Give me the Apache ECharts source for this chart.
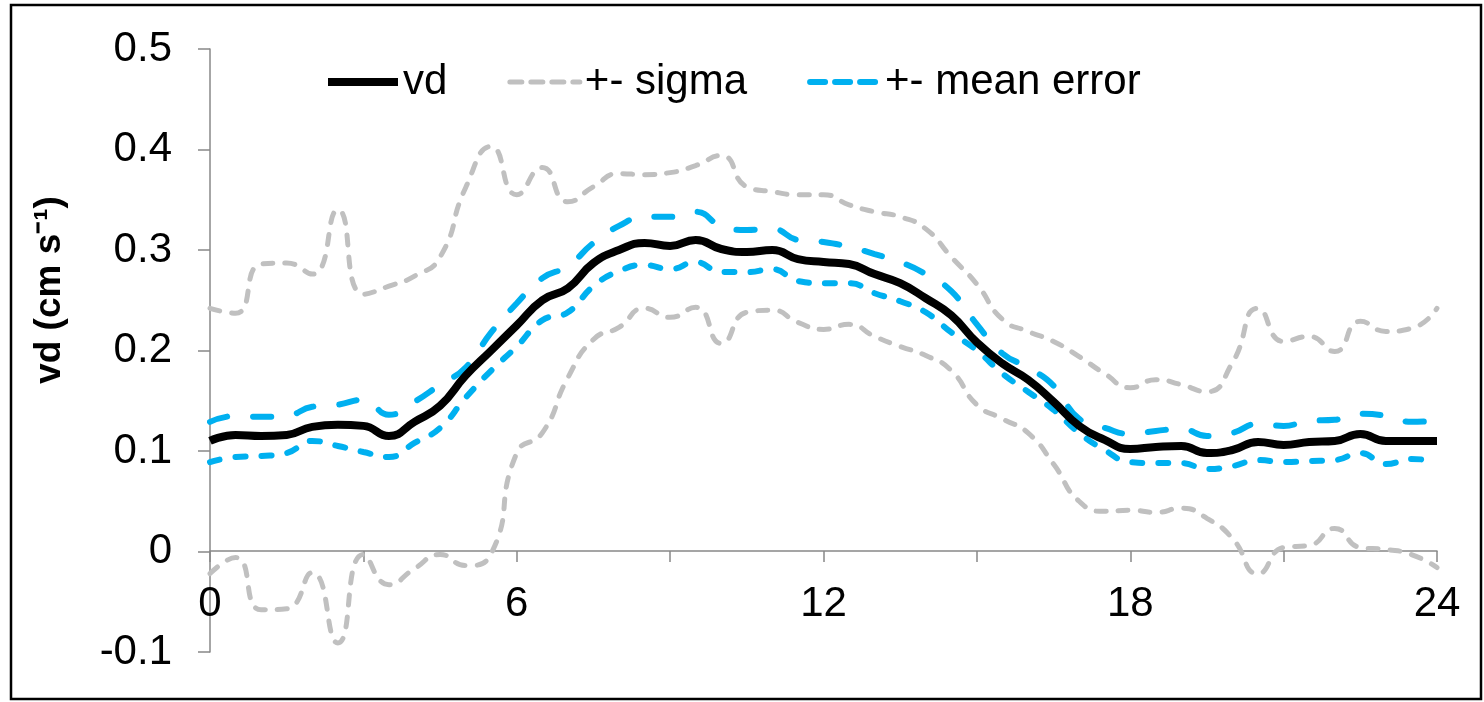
<!DOCTYPE html>
<html>
<head>
<meta charset="utf-8">
<script src="https://cdn.jsdelivr.net/npm/echarts@6/dist/echarts.min.js"></script>
<style>
html,body{margin:0;padding:0;background:#fff;}
#chart{width:1484px;height:702px;}
</style>
</head>
<body>
<div id="chart"></div>
<script>
var hours = [0,0.5,1,1.5,2,2.5,3,3.5,4,4.5,5,5.5,6,6.5,7,7.5,8,8.5,9,9.5,10,10.5,11,11.5,12,12.5,13,13.5,14,14.5,15,15.5,16,16.5,17,17.5,18,18.5,19,19.5,20,20.5,21,21.5,22,22.5,23,23.5,24];
var vd = [0.110,0.116,0.115,0.116,0.124,0.126,0.125,0.115,0.129,0.145,
          0.175,0.200,0.225,0.250,0.262,0.287,0.300,0.307,0.304,0.310,
          0.301,0.298,0.300,0.291,0.288,0.286,0.276,0.267,0.252,0.235,
          0.208,0.187,0.171,0.149,0.125,0.111,0.102,0.104,0.105,0.098,
          0.101,0.109,0.106,0.109,0.110,0.117,0.110,0.110,0.110];
var meanErrUpper = [0.129,0.135,0.134,0.135,0.144,0.146,0.151,0.136,0.149,0.166,
          0.183,0.218,0.247,0.272,0.284,0.307,0.324,0.333,0.333,0.338,
          0.324,0.320,0.321,0.310,0.308,0.303,0.296,0.288,0.276,0.259,
          0.226,0.197,0.183,0.165,0.132,0.123,0.117,0.120,0.122,0.115,
          0.118,0.127,0.125,0.130,0.131,0.137,0.135,0.129,0.130];
var meanErrLower = [0.089,0.094,0.095,0.098,0.110,0.105,0.099,0.094,0.108,0.123,
          0.153,0.180,0.204,0.230,0.238,0.264,0.279,0.285,0.281,0.288,
          0.278,0.278,0.281,0.269,0.267,0.267,0.257,0.249,0.238,0.218,
          0.200,0.177,0.159,0.141,0.118,0.101,0.089,0.088,0.088,0.082,
          0.085,0.091,0.089,0.090,0.091,0.098,0.087,0.092,0.090];
var sigmaUpper = [0.242,0.237,0.286,0.287,0.276,0.340,0.256,0.264,0.274,0.293,
          0.362,0.403,0.355,0.382,0.348,0.363,0.376,0.375,0.377,0.384,
          0.394,0.363,0.358,0.355,0.355,0.345,0.338,0.333,0.321,0.293,
          0.266,0.231,0.219,0.209,0.194,0.177,0.163,0.171,0.166,0.159,
          0.188,0.242,0.209,0.214,0.199,0.229,0.219,0.222,0.242];
var sigmaLower = [-0.022,-0.006,-0.058,-0.057,-0.021,-0.091,-0.003,-0.033,-0.017,-0.003,
          -0.014,-0.002,0.098,0.118,0.173,0.211,0.223,0.242,0.233,0.243,
          0.207,0.238,0.240,0.228,0.221,0.226,0.214,0.204,0.195,0.180,
          0.146,0.132,0.118,0.087,0.050,0.040,0.041,0.039,0.043,0.033,
          0.013,-0.022,0.004,0.006,0.023,0.004,0.002,-0.003,-0.016];
var xTickLabels = ['0','6','12','18','24'];
var yTitle = 'vd (cm s\u207B\u00B9)';
var legendNames = ['vd','+- sigma','+- mean error'];

function pairs(arr){ return hours.map(function(h,i){ return [h, arr[i]]; }); }

var FONT = '"Liberation Sans", Arial, sans-serif';
var AXIS_COLOR = '#888888';
var BLUE = '#00B0F0';
var GRAY = '#C0C0C0';

var chart = echarts.init(document.getElementById('chart'), null, {renderer:'canvas'});
chart.setOption({
  animation:false,
  backgroundColor:'#ffffff',
  grid:{left:210,right:47,top:49,bottom:50,containLabel:false,outerBoundsMode:'none'},
  legend:{
    left:323, top:56,
    itemWidth:70, itemHeight:12, itemGap:60,
    textStyle:{fontFamily:FONT,fontSize:42,color:'#000',padding:[0,0,0,0]},
    data:[
      {name:legendNames[0], icon:'path://M0,0 L70,0 L70,8 L0,8 Z', itemStyle:{color:'#000'}},
      {name:legendNames[1], itemStyle:{opacity:0}, lineStyle:{type:[12,9],width:5,color:GRAY,cap:'round'}},
      {name:legendNames[2], itemStyle:{opacity:0}, lineStyle:{type:[15,10],width:6,color:BLUE,cap:'round'}}
    ]
  },
  xAxis:{
    type:'value', min:0, max:24, interval:3, position:'bottom', offset:-101,
    axisLine:{onZero:false,lineStyle:{color:AXIS_COLOR,width:1.5}},
    axisTick:{show:true,length:11,lineStyle:{color:AXIS_COLOR,width:1.5}},
    splitLine:{show:false},
    axisLabel:{
      margin:32, color:'#000', fontFamily:FONT, fontSize:42,
      formatter:function(v){ return (v % 6 === 0) ? xTickLabels[v/6] : ''; }
    }
  },
  yAxis:{
    type:'value', min:-0.1, max:0.5, interval:0.1,
    axisLine:{show:true,lineStyle:{color:AXIS_COLOR,width:1.5}},
    axisTick:{show:true,length:12,lineStyle:{color:AXIS_COLOR,width:1.5}},
    splitLine:{show:false},
    axisLabel:{
      margin:38, color:'#000', fontFamily:FONT, fontSize:42,
      formatter:function(v){ return String(+v.toFixed(1)); }
    }
  },
  graphic:[
    {type:'rect', z:100, silent:true, shape:{x:11,y:5,width:1470,height:694},
     style:{fill:'none',stroke:'#000',lineWidth:2.5}},
    {type:'text', z:100, silent:true, x:50, y:290, rotation:Math.PI/2,
     style:{text:yTitle, font:'bold 37px "Liberation Sans", Arial, sans-serif',
            fill:'#000', align:'center', verticalAlign:'middle'}}
  ],
  series:[
    {name:legendNames[1], type:'line', data:pairs(sigmaUpper), smooth:0.55, symbol:'none',
     lineStyle:{color:GRAY,width:5,type:[10,12],cap:'round'}, itemStyle:{color:GRAY}, z:2},
    {name:legendNames[1], type:'line', data:pairs(sigmaLower), smooth:0.55, symbol:'none',
     lineStyle:{color:GRAY,width:5,type:[10,12],cap:'round'}, itemStyle:{color:GRAY}, z:2},
    {name:legendNames[2], type:'line', data:pairs(meanErrUpper), smooth:true, symbol:'none',
     lineStyle:{color:BLUE,width:6,type:[18,26],cap:'round'}, itemStyle:{color:BLUE}, z:3},
    {name:legendNames[2], type:'line', data:pairs(meanErrLower), smooth:true, symbol:'none',
     lineStyle:{color:BLUE,width:6,type:[10,16],cap:'round'}, itemStyle:{color:BLUE}, z:3},
    {name:legendNames[0], type:'line', data:pairs(vd), smooth:true, symbol:'none',
     lineStyle:{color:'#000',width:8}, itemStyle:{color:'#000'}, z:4}
  ]
});
</script>
</body>
</html>
